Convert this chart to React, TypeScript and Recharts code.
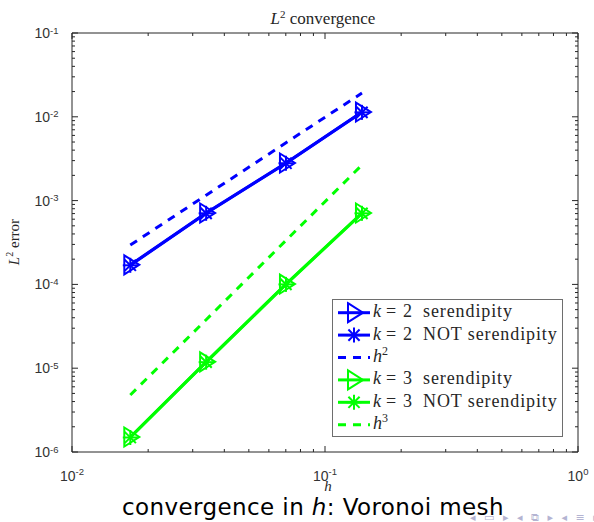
import React from 'react';
import { LineChart, Line, XAxis, YAxis, Legend } from 'recharts';

// Mesh size h of the four Voronoi meshes
const meshSizes = [0.017, 0.0339, 0.0701, 0.14];

// L2 errors for k = 2
const errK2Serendipity = [1.71e-4, 7.11e-4, 2.81e-3, 1.14e-2];
const errK2Full = [1.69e-4, 7.05e-4, 2.79e-3, 1.13e-2];
const refH2 = [2.95e-4, 1.16e-3, 4.9e-3, 1.92e-2];

// L2 errors for k = 3
const errK3Serendipity = [1.51e-6, 1.19e-5, 1.01e-4, 7.11e-4];
const errK3Full = [1.49e-6, 1.18e-5, 1.0e-4, 7.05e-4];
const refH3 = [4.79e-6, 3.79e-5, 3.35e-4, 2.66e-3];

// Axis decades (exponents of 10)
const xDecades = [-2, -1, 0];
const yDecades = [-6, -5, -4, -3, -2, -1];

const BLUE = '#0000ff';
const GREEN = '#00ff00';
const AXIS = '#262626';
const LABEL = '#333333';
const SERIF = '"Liberation Serif", "Times New Roman", serif';
const SANS = '"Liberation Sans", Arial, sans-serif';

const rows = meshSizes.map((h, i) => ({
  h,
  k2s: errK2Serendipity[i],
  k2n: errK2Full[i],
  h2: refH2[i],
  k3s: errK3Serendipity[i],
  k3n: errK3Full[i],
  h3: refH3[i],
}));

// Major ticks at powers of ten, minor ticks at 2..9 times each power
const logTicks = (decades: number[]) => {
  const out: number[] = [];
  for (let i = 0; i < decades.length - 1; i++) {
    for (let m = 1; m <= 9; m++) out.push(Number((m * Math.pow(10, decades[i])).toPrecision(6)));
  }
  out.push(Math.pow(10, decades[decades.length - 1]));
  return out;
};
const xTicks = logTicks(xDecades);
const yTicks = logTicks(yDecades);

const exponentOf = (v: number) => Math.round(Math.log10(v));
const isMajor = (v: number) => Math.abs(Math.log10(v) - exponentOf(v)) < 1e-6;

type Side = 'bottom' | 'top' | 'left' | 'right';

const makeTick = (side: Side) => (props: any) => {
  const { x, y, payload } = props;
  const v = payload.value as number;
  const major = isMajor(v);
  const len = major ? 6 : 3;
  let line;
  if (side === 'bottom') line = <line x1={x} x2={x} y1={y} y2={y - len} />;
  else if (side === 'top') line = <line x1={x} x2={x} y1={y} y2={y + len} />;
  else if (side === 'left') line = <line x1={x} x2={x + len} y1={y} y2={y} />;
  else line = <line x1={x} x2={x - len} y1={y} y2={y} />;
  let label = null;
  if (major && side === 'bottom') {
    label = (
      <text x={x} y={y + 28.5} textAnchor="middle" fontFamily={SANS} fontSize={14} fill={LABEL} stroke="none">
        <tspan>10</tspan>
        <tspan dy={-6} fontSize={9.5}>{String(exponentOf(v))}</tspan>
      </text>
    );
  }
  if (major && side === 'left') {
    label = (
      <text x={x - 13.5} y={y + 5} textAnchor="end" fontFamily={SANS} fontSize={14} fill={LABEL} stroke="none">
        <tspan>10</tspan>
        <tspan dy={-4.5} fontSize={9.5}>{String(exponentOf(v))}</tspan>
      </text>
    );
  }
  return (
    <g stroke={AXIS} strokeWidth={1}>
      {line}
      {label}
    </g>
  );
};

const TriangleMark = ({ cx, cy, color }: { cx: number; cy: number; color: string }) => (
  <polygon
    points={`${cx - 6},${cy - 9.5} ${cx + 9},${cy} ${cx - 6},${cy + 9.5}`}
    fill="none"
    stroke={color}
    strokeWidth={2}
    strokeLinejoin="miter"
  />
);

const StarMark = ({ cx, cy, color }: { cx: number; cy: number; color: string }) => {
  const r = 7.5;
  const d = 5.6;
  return (
    <g stroke={color} strokeWidth={2} strokeLinecap="butt">
      <line x1={cx - r} x2={cx + r} y1={cy} y2={cy} />
      <line x1={cx} x2={cx} y1={cy - r} y2={cy + r} />
      <line x1={cx - d} x2={cx + d} y1={cy - d} y2={cy + d} />
      <line x1={cx - d} x2={cx + d} y1={cy + d} y2={cy - d} />
    </g>
  );
};

type Marker = 'triangle' | 'star' | 'none';

const seriesList: { key: string; color: string; marker: Marker; k?: number; label: string; power?: number }[] = [
  { key: 'k2s', color: BLUE, marker: 'triangle', k: 2, label: 'serendipity' },
  { key: 'k2n', color: BLUE, marker: 'star', k: 2, label: 'NOT serendipity' },
  { key: 'h2', color: BLUE, marker: 'none', label: '', power: 2 },
  { key: 'k3s', color: GREEN, marker: 'triangle', k: 3, label: 'serendipity' },
  { key: 'k3n', color: GREEN, marker: 'star', k: 3, label: 'NOT serendipity' },
  { key: 'h3', color: GREEN, marker: 'none', label: '', power: 3 },
];

const DASH = '8 7';

const dotFor = (marker: Marker, color: string) => {
  if (marker === 'none') return false;
  return (p: any) => (
    <g key={`${marker}-${color}-${p.index}`}>
      {marker === 'triangle' ? (
        <TriangleMark cx={p.cx} cy={p.cy} color={color} />
      ) : (
        <StarMark cx={p.cx} cy={p.cy} color={color} />
      )}
    </g>
  );
};

const LEGEND_W = 231;
const LEGEND_H = 138;
const TEXT_FILL = '#262626';

const LegendBox = () => (
  <svg width={LEGEND_W} height={LEGEND_H} style={{ display: 'block' }}>
    <rect x={0.5} y={0.5} width={LEGEND_W - 1} height={LEGEND_H - 1} fill="#ffffff" stroke="#6e6e6e" strokeWidth={1} />
    {seriesList.map((s, i) => {
      const cy = 13.7 + i * 22.4;
      const ty = cy + 4.5;
      return (
        <g key={s.key}>
          <line
            x1={6}
            x2={38}
            y1={cy}
            y2={cy}
            stroke={s.color}
            strokeWidth={3}
            strokeDasharray={s.marker === 'none' ? DASH : undefined}
          />
          {s.marker === 'triangle' && <TriangleMark cx={22} cy={cy} color={s.color} />}
          {s.marker === 'star' && <StarMark cx={22} cy={cy} color={s.color} />}
          {s.power ? (
            <text x={41} y={ty} fontFamily={SERIF} fontSize={18} fill={TEXT_FILL}>
              <tspan fontStyle="italic">h</tspan>
              <tspan dy={-7} fontSize={12}>{String(s.power)}</tspan>
            </text>
          ) : (
            <g fontFamily={SERIF} fontSize={18} fill={TEXT_FILL}>
              <text x={41} y={ty} fontStyle="italic">k</text>
              <text x={54} y={ty}>=</text>
              <text x={71} y={ty}>{String(s.k)}</text>
              <text x={91} y={ty} letterSpacing={0.9}>{s.label}</text>
            </g>
          )}
        </g>
      );
    })}
  </svg>
);

export default function App() {
  return (
    <div style={{ position: 'absolute', left: 0, top: 0, width: 594, height: 522, background: '#ffffff' }}>
      <LineChart width={594} height={522} data={rows} margin={{ top: 0, right: 0, bottom: 30, left: 0 }}>
        <XAxis
          xAxisId="bottom"
          dataKey="h"
          type="number"
          scale="log"
          domain={[0.01, 1]}
          allowDataOverflow
          ticks={xTicks}
          interval={0}
          height={40}
          tickSize={0}
          tickMargin={0}
          tickLine={false}
          axisLine={{ stroke: AXIS, strokeWidth: 1 }}
          tick={makeTick('bottom')}
        />
        <XAxis
          xAxisId="top"
          orientation="top"
          dataKey="h"
          type="number"
          scale="log"
          domain={[0.01, 1]}
          allowDataOverflow
          ticks={xTicks}
          interval={0}
          height={33}
          tickSize={0}
          tickMargin={0}
          tickLine={false}
          axisLine={{ stroke: AXIS, strokeWidth: 1 }}
          tick={makeTick('top')}
        />
        <YAxis
          yAxisId="left"
          type="number"
          scale="log"
          domain={[1e-6, 1e-1]}
          allowDataOverflow
          ticks={yTicks}
          interval={0}
          width={72}
          tickSize={0}
          tickMargin={0}
          tickLine={false}
          axisLine={{ stroke: AXIS, strokeWidth: 1 }}
          tick={makeTick('left')}
        />
        <YAxis
          yAxisId="right"
          orientation="right"
          type="number"
          scale="log"
          domain={[1e-6, 1e-1]}
          allowDataOverflow
          ticks={yTicks}
          interval={0}
          width={16}
          tickSize={0}
          tickMargin={0}
          tickLine={false}
          axisLine={{ stroke: AXIS, strokeWidth: 1 }}
          tick={makeTick('right')}
        />
        {seriesList.map((s) => (
          <Line
            key={s.key}
            xAxisId="bottom"
            yAxisId="left"
            dataKey={s.key}
            type="linear"
            stroke={s.color}
            strokeWidth={3}
            strokeDasharray={s.marker === 'none' ? DASH : undefined}
            dot={dotFor(s.marker, s.color)}
            activeDot={false}
            isAnimationActive={false}
          />
        ))}
        <Legend
          layout="horizontal"
          align="center"
          verticalAlign="middle"
          content={() => <LegendBox />}
          wrapperStyle={{ position: 'absolute', left: 332, top: 299, width: LEGEND_W, height: LEGEND_H }}
        />
      </LineChart>
      <svg
        width={594}
        height={522}
        style={{ position: 'absolute', left: 0, top: 0, pointerEvents: 'none' }}
      >
        <text x={323} y={24} textAnchor="middle" fontFamily={SERIF} fontSize={17} fill={TEXT_FILL}>
          <tspan fontStyle="italic">L</tspan>
          <tspan dy={-6} fontSize={11}>2</tspan>
          <tspan dy={6}>{' convergence'}</tspan>
        </text>
        <text
          transform="translate(19,242) rotate(-90)"
          textAnchor="middle"
          fontFamily={SERIF}
          fontSize={15}
          fill={TEXT_FILL}
        >
          <tspan fontStyle="italic">L</tspan>
          <tspan dy={-6} fontSize={10}>2</tspan>
          <tspan dy={6}>{' error'}</tspan>
        </text>
        <text x={328} y={491} textAnchor="middle" fontFamily={SERIF} fontStyle="italic" fontSize={15} fill={TEXT_FILL}>
          h
        </text>
        <text x={313} y={515} textAnchor="middle" fontFamily='"DejaVu Sans", sans-serif' fontSize={23} fill="#000000" letterSpacing={0.4}>
          <tspan>{'convergence in '}</tspan>
          <tspan fontStyle="italic">h</tspan>
          <tspan>{': Voronoi mesh'}</tspan>
        </text>
        <text x={470} y={521} fontFamily='"DejaVu Sans", sans-serif' fontSize={11} fill="#b4b4d2" letterSpacing={2.5}>
          {'◂ ▭ ▸ ◂ ⧉ ▸ ◂ ≡ ▸'}
        </text>
      </svg>
    </div>
  );
}
